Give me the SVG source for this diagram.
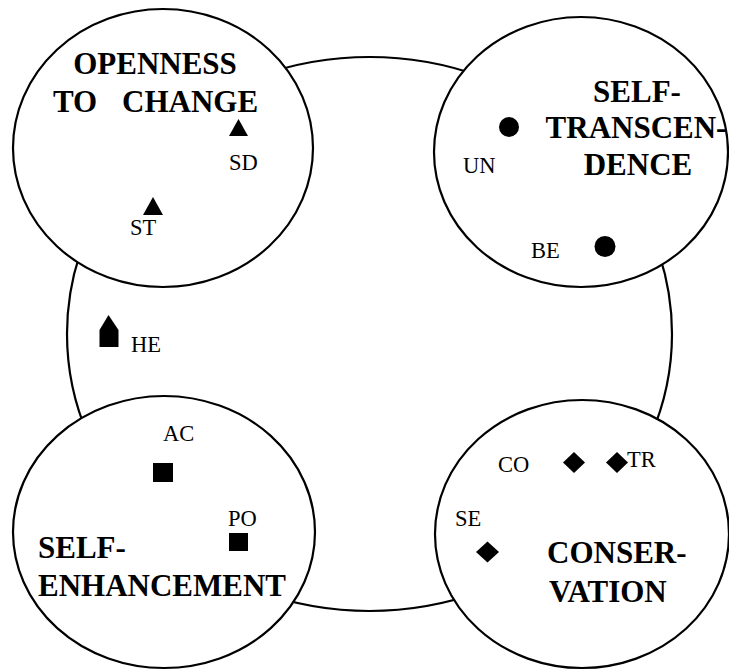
<svg xmlns="http://www.w3.org/2000/svg" width="729" height="670" viewBox="0 0 729 670">
<style>
.ring{fill:none;stroke:#000;stroke-width:2.2}
.grp{fill:#fff;stroke:#000;stroke-width:2.2}
.title{font-weight:bold;font-size:31px;fill:#000}
.lbl{font-size:22.5px;fill:#000}
.mk{fill:#000;stroke:none}
</style>
<rect width="729" height="670" fill="#fff"/>
<g id="connectors">
<ellipse class="ring" cx="369.5" cy="334" rx="302.5" ry="277"/>
</g>
<g font-family="Liberation Serif, Times New Roman, DejaVu Serif, serif">
<g id="openness">
<ellipse class="grp" cx="163" cy="148" rx="150" ry="139"/>
<text class="title"><tspan x="155" y="74" text-anchor="middle">OPENNESS</tspan><tspan x="53" y="112">TO</tspan><tspan x="122" y="112">CHANGE</tspan></text>
<polygon class="mk" points="238.5,119 248,136 229,136"/>
<text class="lbl" x="229" y="170">SD</text>
<polygon class="mk" points="153,197 163,215 143,215"/>
<text class="lbl" x="130" y="235">ST</text>
</g>
<g id="self-transcendence">
<ellipse class="grp" cx="581" cy="152" rx="147" ry="135"/>
<text class="title" text-anchor="middle"><tspan x="637" y="102">SELF-</tspan><tspan x="636" y="138">TRANSCEN-</tspan><tspan x="638" y="175">DENCE</tspan></text>
<circle class="mk" cx="509" cy="127" r="10"/>
<text class="lbl" x="463" y="173">UN</text>
<circle class="mk" cx="605" cy="246.5" r="10.5"/>
<text class="lbl" x="531" y="258">BE</text>
</g>
<g id="hedonism">
<polygon class="mk" points="108.5,315 118.5,330 118.5,347 99.5,347 99.5,330"/>
<text class="lbl" x="131" y="352">HE</text>
</g>
<g id="self-enhancement">
<ellipse class="grp" cx="164" cy="532" rx="151" ry="136"/>
<text class="title"><tspan x="38" y="558">SELF-</tspan><tspan x="38" y="596">ENHANCEMENT</tspan></text>
<rect class="mk" x="153" y="463" width="20" height="19"/>
<text class="lbl" x="163" y="441">AC</text>
<rect class="mk" x="229" y="533" width="19" height="18"/>
<text class="lbl" x="228" y="526">PO</text>
</g>
<g id="conservation">
<ellipse class="grp" cx="582" cy="534" rx="147" ry="134"/>
<text class="title"><tspan x="547" y="563">CONSER-</tspan><tspan x="549" y="602">VATION</tspan></text>
<polygon class="mk" points="574,452 585,462.5 574,473 563,462.5"/>
<text class="lbl" x="498" y="472">CO</text>
<polygon class="mk" points="617,452 628,462.5 617,473 606,462.5"/>
<text class="lbl" x="627" y="467">TR</text>
<polygon class="mk" points="487.5,541.5 499,552 487.5,562.5 476,552"/>
<text class="lbl" x="455" y="526">SE</text>
</g>
</g>
</svg>
